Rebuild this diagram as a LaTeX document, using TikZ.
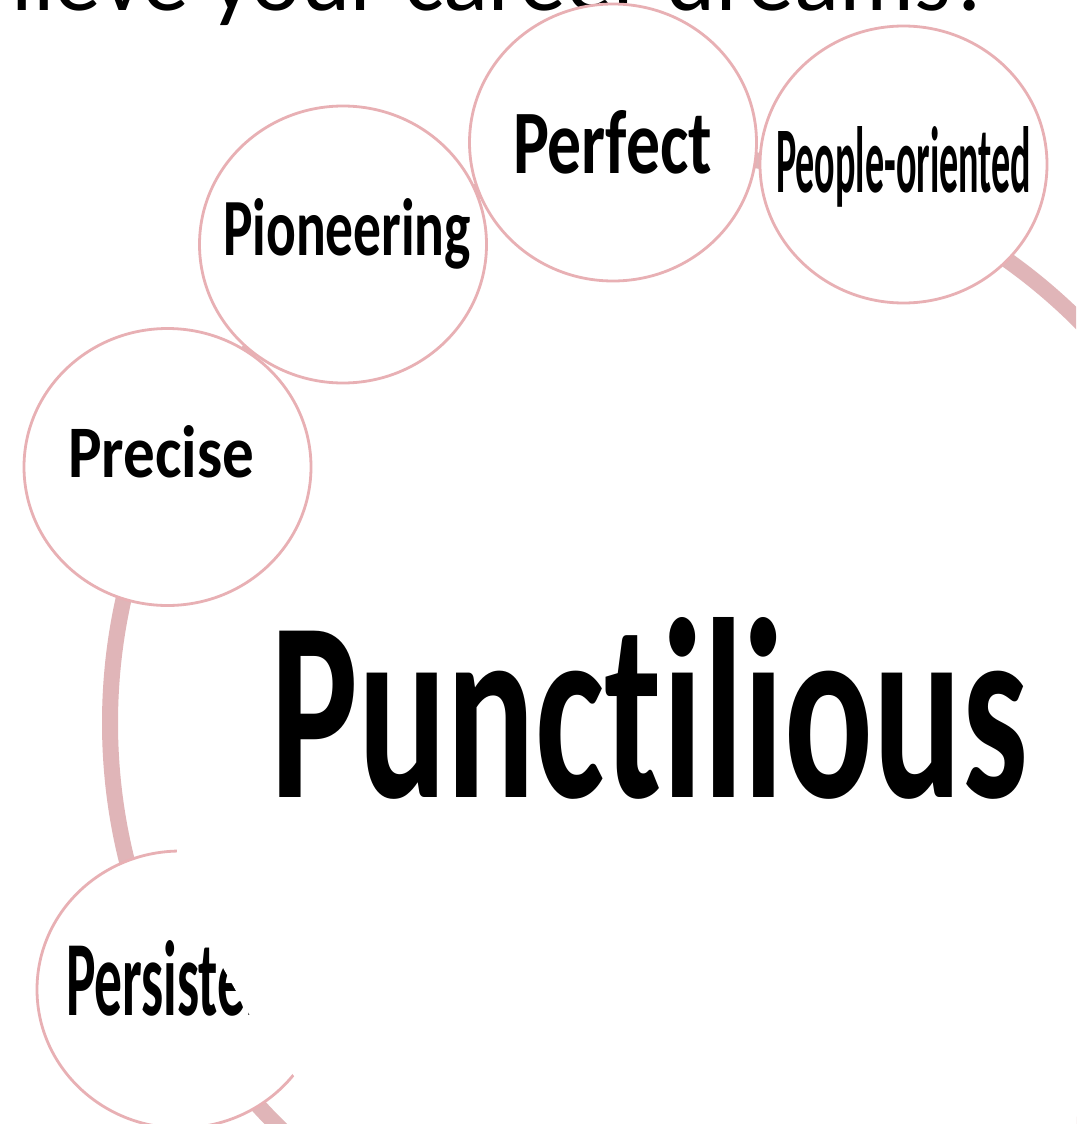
\documentclass[tikz,border=0pt]{standalone}
\usepackage{fontspec}
\setmainfont{Carlito}[Ligatures=CommonOff]
\usepackage{graphicx}
\usetikzlibrary{shapes.geometric}
\definecolor{ringc}{RGB}{224,181,184}
\definecolor{edgec}{RGB}{232,176,180}
\begin{document}
\begin{tikzpicture}[x=1pt,y=-1pt,
  bubblefill/.style={ellipse, fill=white, inner sep=0pt, outer sep=0pt,
    minimum width=287pt, minimum height=277pt},
  bubbleedge/.style={ellipse, draw=edgec, line width=2.8pt, inner sep=0pt, outer sep=0pt,
    minimum width=287pt, minimum height=277pt},
  lbl/.style={anchor=base west, inner sep=0pt, outer sep=0pt, text=black}]
\useasboundingbox (0,0) rectangle (1076,1124);
\clip (0,0) rectangle (1076,1124);
\fill[white] (0,0) rectangle (1076,1124);
% big ring
\coordinate (ringc) at (678,723);
\draw[ringc, line width=16pt] (ringc) circle [radius=568];
% title text (cropped at the top edge, as in the reference)
\node[lbl] (title) at (12,11) {\resizebox{982pt}{!}{lieve your career dreams?}};
% bubble fills
\node[bubblefill] (perfect) at (613,142.5) {};
\node[bubblefill] (people) at (903.5,164.5) {};
\node[bubblefill] (pioneer) at (343,244.5) {};
\node[bubblefill] (precise) at (167.5,467) {};
\node[bubblefill] (persist) at (180.5,989.5) {};
% bubble outlines
\node[bubbleedge] at (perfect) {};
\node[bubbleedge] at (people) {};
\node[bubbleedge] at (pioneer) {};
\node[bubbleedge] at (precise) {};
\node[bubbleedge] at (persist) {};
% labels
\node[lbl] (tperfect) at (513,173) {\resizebox{199pt}{63pt}{\textbf{Perfect}}};
\node[lbl] (tpeople) at (776,192) {\resizebox{255pt}{66pt}{\textbf{People-oriented}}};
\node[lbl] (tpioneer) at (223,255) {\resizebox{248pt}{57pt}{\textbf{Pioneering}}};
\node[lbl] (tprecise) at (68,477) {\resizebox{186pt}{52pt}{\textbf{Precise}}};
\node[lbl] (tpersist) at (66,1015) {\resizebox{228pt}{75pt}{\textbf{Persistent}}};
% white picture area covering part of the last bubble
\fill[white] (177,780) -- (177,862) -- (200,872) -- (222,966) -- (262,1037) -- (295,1077)
  -- (330,1124) -- (1076,1124) -- (1076,780) -- cycle;
\node[lbl] (tpunct) at (270,797) {\resizebox{757pt}{180pt}{\textbf{Punctilious}}};
\end{tikzpicture}
\end{document}
